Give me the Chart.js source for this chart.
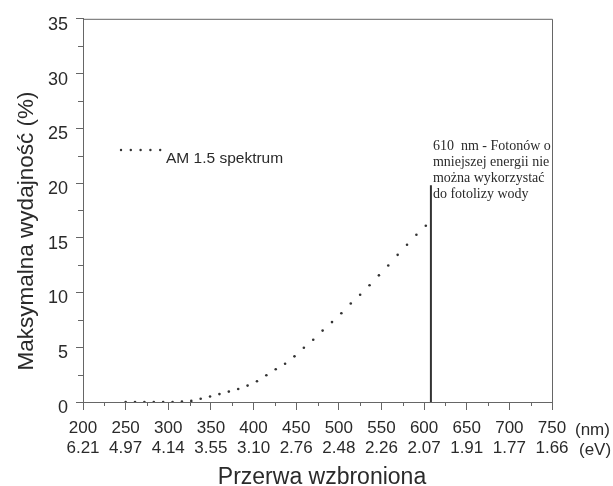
<!DOCTYPE html>
<html>
<head>
<meta charset="utf-8">
<script src="https://cdn.jsdelivr.net/npm/chart.js@4.4.1/dist/chart.umd.min.js"></script>
<style>
  html, body { margin: 0; padding: 0; background: #fff; }
  #wrap { width: 613px; height: 486px; }
</style>
</head>
<body>
<div id="wrap"><canvas id="c" width="613" height="486"></canvas></div>
<script>
// ---- Data ----
const wavelengthsNm = [250, 261, 272, 283, 294, 305, 316, 327, 338, 349, 360, 371, 382, 393, 404, 415,
  426, 437, 448, 459, 470, 481, 492, 503, 514, 525, 536, 547, 558, 569, 580, 591, 602];
const efficiency = [0, 0, 0, 0, 0, 0, 0.05, 0.1, 0.3, 0.5, 0.72, 0.95, 1.19, 1.5, 1.9, 2.45,
  2.99, 3.5, 4.17, 4.96, 5.68, 6.52, 7.3, 8.1, 9.0, 9.8, 10.66, 11.57, 12.47, 13.44, 14.36, 15.27, 16.1];
const cutoffNm = 608;
const cutoffTop = 19.8;
const nmTicks = [200, 250, 300, 350, 400, 450, 500, 550, 600, 650, 700, 750];
const evTicks = ["6.21", "4.97", "4.14", "3.55", "3.10", "2.76", "2.48", "2.26", "2.07", "1.91", "1.77", "1.66"];
const yTicks = [0, 5, 10, 15, 20, 25, 30, 35];
const legendLabel = "AM 1.5 spektrum";
const noteLines = ["610  nm - Fotonów o", "mniejszej energii nie", "można wykorzystać", "do fotolizy wody"];
const xTitle = "Przerwa wzbroniona";
const yTitle = "Maksymalna wydajność (%)";
const unitLabels = ["(nm)", "(eV)"];

const INK = '#2a2a2a';
const AXIS = '#666';
const SANS = "'Liberation Sans', Arial, sans-serif";
const SERIF = "'Liberation Serif', 'Times New Roman', serif";

const points = wavelengthsNm.map((x, i) => ({ x: x, y: efficiency[i] }));

const decorPlugin = {
  id: 'decor',
  afterDraw(chart) {
    const ctx = chart.ctx;
    const xs = chart.scales.x, ys = chart.scales.y;
    const a = chart.chartArea;
    ctx.save();
    // box
    ctx.strokeStyle = AXIS;
    ctx.lineWidth = 1;
    ctx.beginPath();
    ctx.moveTo(a.left, a.top + 0.5); ctx.lineTo(a.right + 0.5, a.top + 0.5); ctx.lineTo(a.right + 0.5, a.bottom);
    ctx.stroke();
    // minor ticks
    ctx.beginPath();
    for (let v = 225; v < 750; v += 50) {
      const px = Math.round(xs.getPixelForValue(v)) + 0.5;
      ctx.moveTo(px, a.bottom); ctx.lineTo(px, a.bottom + 4);
    }
    for (let v = 2.5; v < 35; v += 5) {
      const py = Math.round(ys.getPixelForValue(v)) + 0.5;
      ctx.moveTo(a.left, py); ctx.lineTo(a.left - 5, py);
    }
    ctx.stroke();
    // units
    ctx.fillStyle = INK;
    ctx.font = "17px " + SANS;
    ctx.textBaseline = 'middle';
    ctx.textAlign = 'left';
    const xEnd = xs.getPixelForValue(750);
    ctx.fillText(unitLabels[0], xEnd + 23, 430);
    ctx.fillText(unitLabels[1], xEnd + 27, 450);
    // legend
    ctx.fillStyle = '#333';
    for (let i = 0; i < 5; i++) {
      ctx.beginPath();
      ctx.arc(121 + i * 9.8, 150, 1.2, 0, Math.PI * 2);
      ctx.fill();
    }
    ctx.fillStyle = INK;
    ctx.font = "15.5px " + SANS;
    ctx.textBaseline = 'alphabetic';
    ctx.fillText(legendLabel, 166, 163);
    // annotation
    ctx.font = "14px " + SERIF;
    const nx = xs.getPixelForValue(cutoffNm) + 2;
    const topY = ys.getPixelForValue(cutoffTop);
    noteLines.forEach((t, i) => {
      ctx.fillText(t, nx, topY + 13 - 16 * (noteLines.length - 1 - i));
    });
    // titles
    ctx.font = "23px " + SANS;
    ctx.textAlign = 'center';
    ctx.fillText(xTitle, 322, 484);
    ctx.translate(33, 231);
    ctx.rotate(-Math.PI / 2);
    ctx.font = "22.5px " + SANS;
    ctx.fillText(yTitle, 0, 0);
    ctx.restore();
  }
};

new Chart(document.getElementById('c'), {
  type: 'scatter',
  data: {
    datasets: [
      {
        label: legendLabel,
        data: points,
        showLine: false,
        pointRadius: 1.3,
        pointBorderWidth: 0,
        pointBackgroundColor: '#333',
        pointHoverRadius: 1.3
      },
      {
        label: 'cutoff',
        data: [{ x: cutoffNm, y: 0 }, { x: cutoffNm, y: cutoffTop }],
        showLine: true,
        borderColor: '#333',
        borderWidth: 2,
        pointRadius: 0
      }
    ]
  },
  options: {
    responsive: false,
    devicePixelRatio: 1,
    animation: false,
    layout: { padding: { top: 16, right: 61, left: 0, bottom: 0 } },
    plugins: { legend: { display: false }, tooltip: { enabled: false } },
    scales: {
      x: {
        type: 'linear',
        min: 200, max: 750,
        afterFit(s) { s.height = 84; },
        afterBuildTicks(s) { s.ticks = nmTicks.map(v => ({ value: v })); },
        border: { color: AXIS, width: 1 },
        grid: { drawOnChartArea: false, tickLength: 8, color: AXIS, tickColor: AXIS },
        ticks: {
          padding: 8,
          maxRotation: 0,
          autoSkip: false,
          color: INK,
          font: { family: SANS, size: 17, lineHeight: 1.2 },
          callback(v) { const i = nmTicks.indexOf(v); return [String(v), evTicks[i]]; }
        }
      },
      y: {
        type: 'linear',
        min: 0, max: 35,
        afterFit(s) { s.width = 83; },
        afterBuildTicks(s) { s.ticks = yTicks.map(v => ({ value: v })); },
        border: { color: AXIS, width: 1 },
        grid: { drawOnChartArea: false, tickLength: 7, color: AXIS, tickColor: AXIS },
        ticks: {
          padding: 8,
          color: INK,
          font: { family: SANS, size: 18 },
          labelOffset: (ctx) => (ctx.tick && ctx.tick.value === 0 ? 2 : 6),
          callback(v) { return String(v); }
        }
      }
    }
  },
  plugins: [decorPlugin]
});
</script>
</body>
</html>
